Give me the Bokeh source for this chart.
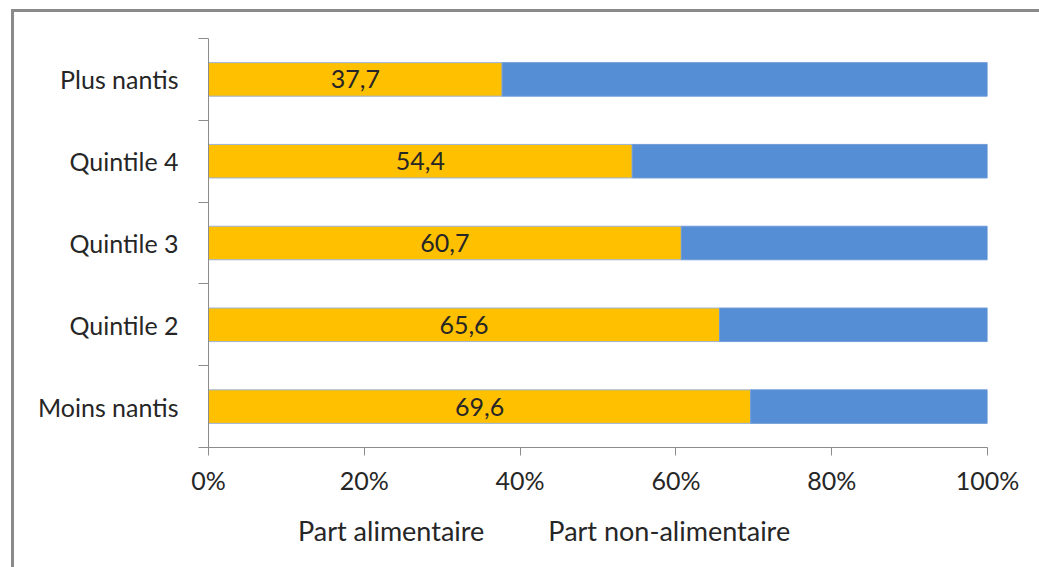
from bokeh.plotting import figure
from bokeh.layouts import column
from bokeh.models import (FixedTicker, Legend, LegendItem, ColumnDataSource, LabelSet,
                          CDSView, IndexFilter)
from bokeh.core.properties import value
from bokeh.embed import file_html
from bokeh.resources import INLINE

categories = ["Moins nantis", "Quintile 2", "Quintile 3", "Quintile 4", "Plus nantis"]
part_alimentaire = [69.6, 65.6, 60.7, 54.4, 37.7]
part_non_alimentaire = [30.4, 34.4, 39.3, 45.6, 62.3]
x_ticks = [0, 20, 40, 60, 80, 100]
x_tick_labels = ["0%", "20%", "40%", "60%", "80%", "100%"]
series_names = ["Part alimentaire", "Part non-alimentaire"]

FONT = "Lato"
YELLOW = "#FFC000"
BLUE = "#558ED5"
AXIS = "#8C8C8C"
TEXT = "#262626"
FS = "25px"
BORDER = "#8A8A8A"

ypos = [i + 0.5 for i in range(len(categories))]
src = ColumnDataSource(dict(
    y=ypos,
    food=part_alimentaire,
    nonfood=part_non_alimentaire,
    total=[a + b for a, b in zip(part_alimentaire, part_non_alimentaire)],
    mid=[a / 2 for a in part_alimentaire],
    lab=[f"{v:.1f}".replace(".", ",") for v in part_alimentaire],
))

OFFX, OFFY, BW = 11, 9, 3
BOTTOM = 56
TOP = 38 - OFFY - BW
LEFT = 208 - OFFX - BW
RIGHT = 55
main_h = BW + TOP + 406 + BOTTOM
p = figure(width=1039 - OFFX, height=main_h, x_range=(0, 100), y_range=(0, len(categories)),
           frame_width=776, frame_height=406,
           min_border_left=LEFT, min_border_top=TOP,
           min_border_right=RIGHT, min_border_bottom=BOTTOM,
           output_backend="svg", toolbar_location=None,
           margin=(OFFY, 0, 0, OFFX),
           styles={"border-left": f"{BW}px solid {BORDER}",
                   "border-top": f"{BW}px solid {BORDER}"})
p.outline_line_color = None
p.xgrid.visible = False
p.ygrid.visible = False
p.background_fill_color = "white"
p.border_fill_color = "white"

r1 = p.hbar(y="y", left=0, right="food", height=0.41, source=src,
            fill_color=YELLOW, line_color="#9CB3D6", line_width=1)
r2 = p.hbar(y="y", left="food", right="total", height=0.41, source=src,
            fill_color=BLUE, line_color="#6F9BD8", line_width=1)

labels = LabelSet(x="mid", y="y", text="lab", source=src, text_align="center",
                  text_baseline="middle", text_font=value(FONT), text_font_size=value(FS),
                  text_color=TEXT)
p.add_layout(labels)

# x axis
p.xaxis.ticker = FixedTicker(ticks=x_ticks, minor_ticks=[])
p.xaxis.major_label_overrides = {t: l for t, l in zip(x_ticks, x_tick_labels)}
p.xaxis.axis_line_color = AXIS
p.xaxis.major_tick_line_color = AXIS
p.xaxis.major_tick_out = 8
p.xaxis.major_tick_in = 0
p.xaxis.minor_tick_line_color = None
p.xaxis.major_label_text_font = FONT
p.xaxis.major_label_text_font_size = FS
p.xaxis.major_label_text_color = TEXT
p.xaxis.major_label_standoff = 9

# y axis
p.yaxis.ticker = FixedTicker(ticks=ypos, minor_ticks=list(range(len(categories) + 1)))
p.yaxis.major_label_overrides = {y: c for y, c in zip(ypos, categories)}
p.yaxis.axis_line_color = AXIS
p.yaxis.major_tick_line_color = None
p.yaxis.major_tick_out = 0
p.yaxis.major_tick_in = 0
p.yaxis.minor_tick_line_color = AXIS
p.yaxis.minor_tick_out = 10
p.yaxis.minor_tick_in = 0
p.yaxis.major_label_text_font = FONT
p.yaxis.major_label_text_font_size = FS
p.yaxis.major_label_text_color = TEXT
p.yaxis.major_label_standoff = 20

# legend strip below the chart: same frame geometry, renderers filtered to nothing
leg_h = 567 - OFFY - main_h
leg = figure(width=1039 - OFFX, height=leg_h, x_range=(0, 100), y_range=(0, len(categories)),
             frame_width=776, frame_height=leg_h,
             min_border_left=LEFT, min_border_right=RIGHT,
             min_border_top=0, min_border_bottom=0,
             x_axis_type=None, y_axis_type=None,
             output_backend="svg", toolbar_location=None,
             margin=(0, 0, 0, OFFX),
             styles={"border-left": f"{BW}px solid {BORDER}"})
leg.outline_line_color = None
leg.xgrid.visible = False
leg.ygrid.visible = False
leg.background_fill_color = "white"
leg.border_fill_color = "white"
nothing = CDSView(filter=IndexFilter(indices=[]))
l1 = leg.hbar(y="y", left=0, right="food", height=0.41, source=src, view=nothing,
              fill_color=YELLOW, line_color="#9CB3D6", line_width=1)
l2 = leg.hbar(y="y", left="food", right="total", height=0.41, source=src,
              view=CDSView(filter=IndexFilter(indices=[])),
              fill_color=BLUE, line_color="#6F9BD8", line_width=1)

legend = Legend(items=[LegendItem(label=series_names[0], renderers=[l1]),
                       LegendItem(label=series_names[1], renderers=[l2])],
                orientation="horizontal", location=(275 - 208, 20),
                label_text_font=FONT, label_text_font_size="27px",
                label_text_color=TEXT, glyph_width=17, glyph_height=17,
                spacing=41, label_standoff=6, padding=0, margin=0,
                border_line_color=None, background_fill_alpha=0)
leg.add_layout(legend, "center")

layout = column(p, leg, spacing=0)
open("out.html", "w").write(file_html(layout, INLINE))
